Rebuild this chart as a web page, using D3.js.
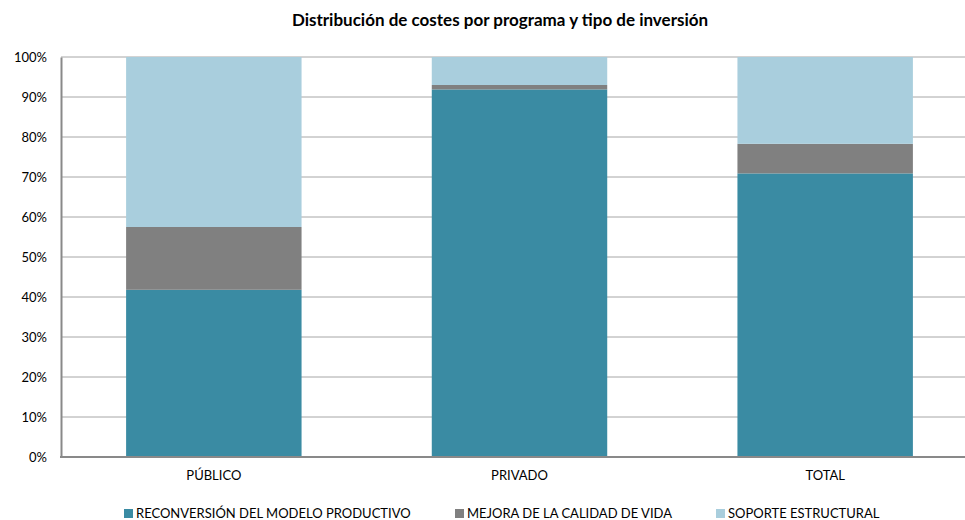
<!DOCTYPE html>
<html>
<head>
<meta charset="utf-8">
<script src="https://cdn.jsdelivr.net/npm/d3@7"></script>
<style>
  body { margin: 0; background: #fff; }
  svg { display: block; font-family: Lato, "Open Sans", sans-serif; }
</style>
</head>
<body>
<div id="chart"></div>
<script>
const categories = ['PÚBLICO', 'PRIVADO', 'TOTAL'];
const seriesNames = ['RECONVERSIÓN DEL MODELO PRODUCTIVO', 'MEJORA DE LA CALIDAD DE VIDA', 'SOPORTE ESTRUCTURAL'];
const reconversion = [41.8, 91.9, 70.9];
const mejora = [15.7, 1.1, 7.4];
const soporte = [42.5, 7.0, 21.7];
const yTicks = [0, 10, 20, 30, 40, 50, 60, 70, 80, 90, 100];

const colors = ['#3a8ba3', '#808080', '#a9cedd'];

const width = 965, height = 520;
const margin = { top: 57, left: 61, bottom: 63 };
const plotRight = 978;

const svg = d3.select('#chart').append('svg')
  .attr('width', width).attr('height', height);

const x = d3.scaleBand().domain(categories)
  .range([margin.left, plotRight]).paddingInner(0.426).paddingOuter(0.213);
const y = d3.scaleLinear().domain([0, 100]).range([height - margin.bottom, margin.top]);

// gridlines
svg.append('g').selectAll('line')
  .data(yTicks.filter(d => d > 0))
  .join('line')
  .attr('x1', margin.left).attr('x2', width)
  .attr('y1', d => y(d)).attr('y2', d => y(d))
  .attr('stroke', '#a6a6a6').attr('stroke-width', 1);

// stacked bars
const rows = categories.map((c, i) => ({
  cat: c, r: reconversion[i], m: mejora[i], s: soporte[i]
}));
const stack = d3.stack().keys(['r', 'm', 's'])(rows);

svg.append('g').selectAll('g')
  .data(stack)
  .join('g')
  .attr('fill', (d, i) => colors[i])
  .selectAll('rect')
  .data(d => d)
  .join('rect')
  .attr('x', d => x(d.data.cat))
  .attr('width', x.bandwidth())
  .attr('y', d => y(d[1]))
  .attr('height', d => y(d[0]) - y(d[1]));

// axes
const yAxis = svg.append('g')
  .attr('transform', `translate(${margin.left},0)`)
  .call(d3.axisLeft(y).tickValues(yTicks).tickFormat(d => d + '%').tickSize(0).tickPadding(14));
yAxis.select('.domain').attr('stroke', '#898989').attr('stroke-width', 2);
yAxis.selectAll('text').attr('font-size', 13).attr('fill', '#000').style('font-family', 'Lato, sans-serif');

const xAxis = svg.append('g')
  .attr('transform', `translate(0,${y(0)})`)
  .call(d3.axisBottom(x).tickSize(0).tickPadding(14));
xAxis.select('.domain').remove();
xAxis.append('line')
  .attr('x1', margin.left - 1).attr('x2', width)
  .attr('stroke', '#898989').attr('stroke-width', 2);
xAxis.selectAll('text').attr('font-size', 13).attr('fill', '#000').style('font-family', 'Lato, sans-serif');

// title
svg.append('text')
  .attr('x', 500).attr('y', 26)
  .attr('text-anchor', 'middle')
  .attr('font-size', 17).attr('font-weight', 'bold')
  .text('Distribución de costes por programa y tipo de inversión');

// legend
const legendX = [124, 455, 716];
const legend = svg.append('g').selectAll('g')
  .data(seriesNames)
  .join('g')
  .attr('transform', (d, i) => `translate(${legendX[i]},513)`);
legend.append('rect')
  .attr('x', 0).attr('y', -4).attr('width', 9).attr('height', 9)
  .attr('fill', (d, i) => colors[i]);
legend.append('text')
  .attr('x', 12).attr('y', 5)
  .attr('font-size', 13)
  .text(d => d);
</script>
</body>
</html>
